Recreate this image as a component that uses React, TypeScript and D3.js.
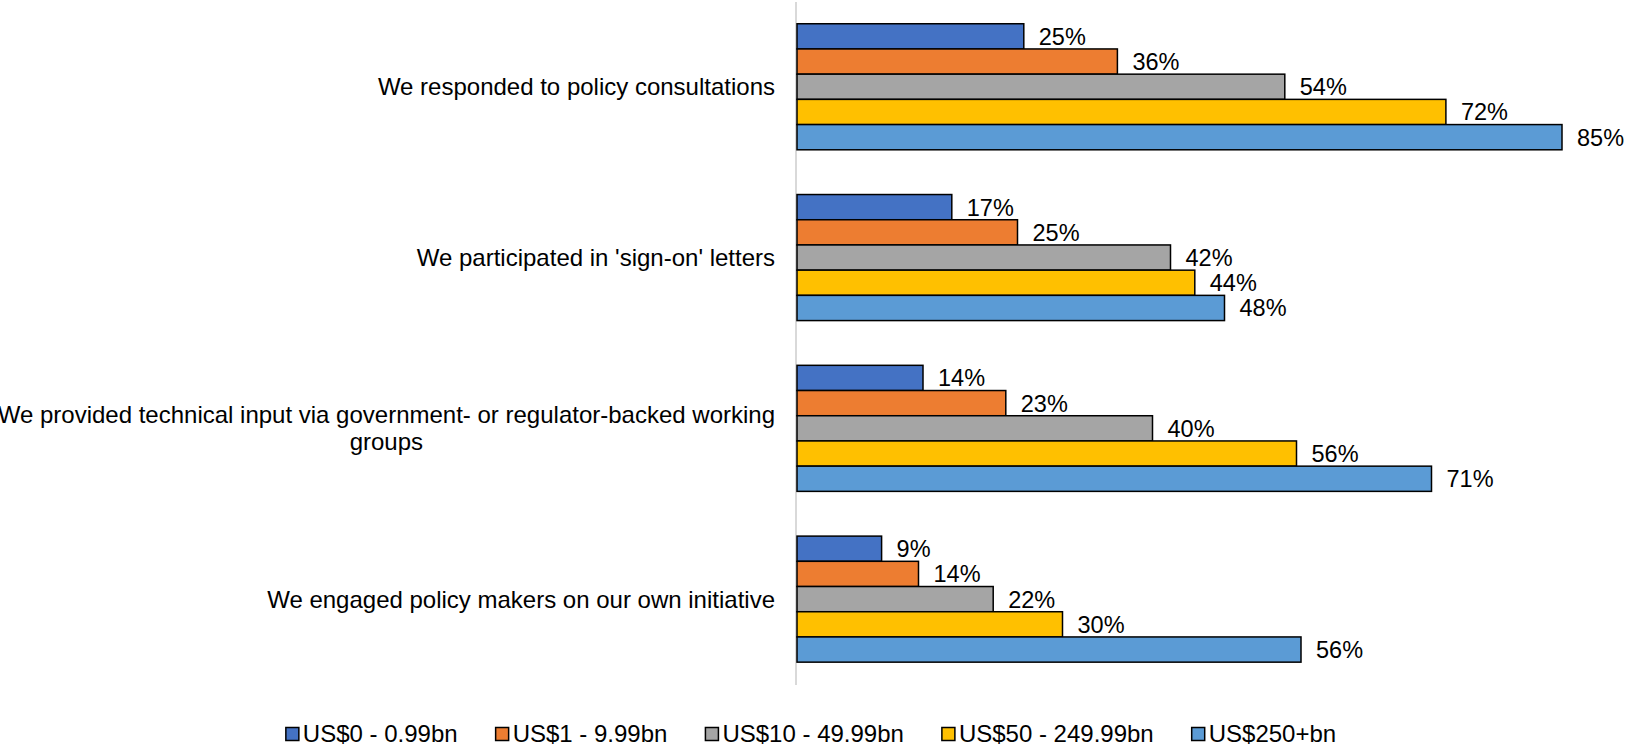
import React, { useEffect, useRef } from 'react';
import * as d3 from 'd3';

// Chart data
const categories = [
  'We responded to policy consultations',
  "We participated in 'sign-on' letters",
  'We provided technical input via government- or regulator-backed working groups',
  'We engaged policy makers on our own initiative',
];

// wrapped lines of the category labels
const categoryLines = [
  ['We responded to policy consultations'],
  ["We participated in 'sign-on' letters"],
  ['We provided technical input via government- or regulator-backed working', 'groups'],
  ['We engaged policy makers on our own initiative'],
];

const seriesNames = ['US$0 - 0.99bn', 'US$1 - 9.99bn', 'US$10 - 49.99bn', 'US$50 - 249.99bn', 'US$250+bn'];
const seriesColors = ['#4472C4', '#ED7D31', '#A5A5A5', '#FFC000', '#5B9BD5'];

// values per series, in category order (percent;
// the labels show them rounded)
const aum0to1 = [25.2, 17.2, 14.0, 9.4];
const aum1to10 = [35.6, 24.5, 23.2, 13.5];
const aum10to50 = [54.2, 41.5, 39.5, 21.8];
const aum50to250 = [72.1, 44.2, 55.5, 29.5];
const aum250plus = [85.0, 47.5, 70.5, 56.0];

const seriesValues = [aum0to1, aum1to10, aum10to50, aum50to250, aum250plus];

export default function App() {
  const svgRef = useRef<SVGSVGElement>(null);

  useEffect(() => {
    document.body.style.margin = '0';

    const font = 'Liberation Sans, Arial, sans-serif';
    const fontSize = 23.5;
    const labelFontSize = 24;
    const capShift = fontSize * 0.716 / 2;

    const svg = d3.select(svgRef.current);
    svg.selectAll('*').remove();

    // Scales
    const x = d3.scaleLinear().domain([0, 100]).range([797, 797 + 900]);

    const y = d3.scaleBand<string>()
      .domain(categories)
      .range([2.4, 683.5])
      .paddingInner(0.262)
      .paddingOuter(0.125);

    const ySeries = d3.scaleBand<string>()
      .domain(seriesNames)
      .range([0, y.bandwidth()])
      .padding(0);

    // Axis line
    svg.append('line')
      .attr('x1', x(0) - 1)
      .attr('x2', x(0) - 1)
      .attr('y1', 2)
      .attr('y2', 685)
      .style('stroke', '#D9D9D9')
      .style('stroke-width', 2);

    // Bars
    seriesValues.forEach((values, s) => {
      const g = svg.append('g');
      g.selectAll('rect')
        .data(values)
        .enter()
        .append('rect')
        .attr('x', x(0))
        .attr('y', (d, i) => (y(categories[i]) as number) + (ySeries(seriesNames[s]) as number))
        .attr('width', d => x(d) - x(0))
        .attr('height', ySeries.bandwidth())
        .style('fill', seriesColors[s])
        .style('stroke', '#000')
        .style('stroke-width', 1.5);

      g.selectAll('text')
        .data(values)
        .enter()
        .append('text')
        .text(d => `${Math.round(d)}%`)
        .attr('x', d => x(d) + 15)
        .attr('y', (d, i) => (y(categories[i]) as number) + (ySeries(seriesNames[s]) as number) + ySeries.bandwidth() / 2 + capShift)
        .attr('font-family', font)
        .attr('font-size', fontSize)
        .attr('fill', '#000');
    });

    // Category labels: right aligned block, lines centered in the block
    const labelRight = 775;
    const lineHeight = 27;
    categoryLines.forEach((lines, i) => {
      const g = svg.append('g');
      const texts = lines.map(line => g.append('text')
        .text(line)
        .attr('font-family', font)
        .attr('font-size', labelFontSize)
        .attr('fill', '#000'));
      const widths = texts.map(t => (t.node() as SVGTextElement).getComputedTextLength());
      const blockWidth = d3.max(widths) as number;
      const center = (y(categories[i]) as number) + y.bandwidth() / 2;
      const top = center - (lines.length - 1) * lineHeight / 2;
      texts.forEach((t, j) => {
        t.attr('x', labelRight - blockWidth / 2)
          .attr('text-anchor', 'middle')
          .attr('y', top + j * lineHeight + capShift);
      });
    });

    // Legend
    const legend = svg.append('g');
    const markerSize = 13;
    const markerGap = 4;
    const itemGap = 38;
    const items = seriesNames.map((name, i) => {
      const item = legend.append('g');
      item.append('rect')
        .attr('width', markerSize)
        .attr('height', markerSize)
        .attr('y', -markerSize / 2)
        .style('fill', seriesColors[i])
        .style('stroke', '#000')
        .style('stroke-width', 1.5);
      const t = item.append('text')
        .text(name)
        .attr('x', markerSize + markerGap)
        .attr('y', capShift)
        .attr('font-family', font)
        .attr('font-size', labelFontSize)
        .attr('fill', '#000');
      const w = (t.node() as SVGTextElement).getComputedTextLength();
      return { item, w: markerSize + markerGap + w };
    });
    const total = d3.sum(items, d => d.w) + itemGap * (items.length - 1);
    let cx = 811 - total / 2;
    items.forEach(({ item, w }) => {
      item.attr('transform', `translate(${cx}, 734)`);
      cx += w + itemGap;
    });
  }, []);

  return <svg ref={svgRef} width={1627} height={746} style={{ display: 'block', background: '#fff' }} />;
}
